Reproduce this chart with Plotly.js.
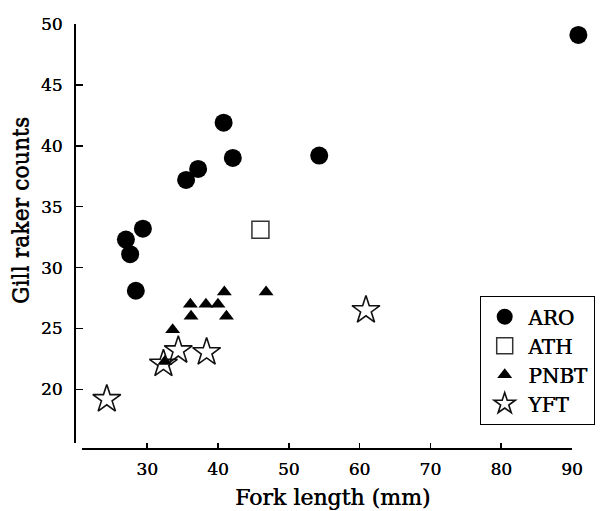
<!DOCTYPE html>
<html>
<head>
<meta charset="utf-8">
<script src="https://cdn.plot.ly/plotly-3.0.1.min.js"></script>
<style>html,body{margin:0;padding:0;background:#fff;}#chart{width:603px;height:511px;}</style>
</head>
<body>
<div id="chart"></div>
<script>
// Data
const aroX = [27, 27.6, 28.4, 29.4, 35.5, 37.2, 40.8, 42.1, 54.3, 90.9];
const aroY = [32.3, 31.1, 28.1, 33.2, 37.2, 38.1, 41.9, 39.0, 39.2, 49.1];
const athX = [46.0];
const athY = [33.1];
const pnbtX = [32.5, 33.6, 36.1, 36.2, 38.3, 40.0, 40.9, 41.2, 46.8];
const pnbtY = [22.3, 24.9, 27.0, 26.0, 27.0, 27.0, 28.0, 26.0, 28.0];
const yftX = [24.3, 32.3, 34.4, 38.4, 60.9];
const yftY = [19.2, 22.1, 23.2, 23.05, 26.5];
const xTicks = [30, 40, 50, 60, 70, 80, 90];
const yTicks = [20, 25, 30, 35, 40, 45, 50];
const seriesNames = ['ARO', 'ATH', 'PNBT', 'YFT'];
const xTitle = 'Fork length (mm)';
const yTitle = 'Gill raker counts';

const FONT = 'DejaVu Serif, Liberation Serif, serif';
const SHADOW = '0.5px 0 0 #000';

const common = {type: 'scatter', mode: 'markers', cliponaxis: false, xaxis: 'x2', yaxis: 'y'};
const traces = [
  // empty helper trace so the visible x axis (x/y subplot) is drawn
  {x: [], y: [], type: 'scatter', mode: 'markers', xaxis: 'x', yaxis: 'y', showlegend: false, hoverinfo: 'skip'},
  Object.assign({x: aroX, y: aroY, name: seriesNames[0],
   marker: {symbol: 'circle', size: 18, color: '#000'}}, common),
  Object.assign({x: athX, y: athY, name: seriesNames[1],
   marker: {symbol: 'square-open', size: 17, color: '#333', line: {width: 1.5, color: '#333'}}}, common),
  Object.assign({x: pnbtX, y: pnbtY, name: seriesNames[2],
   marker: {symbol: 'triangle-up', size: 13, color: '#000'}}, common),
  Object.assign({x: yftX, y: yftY, name: seriesNames[3],
   marker: {symbol: 'star-open', size: 21, color: '#111', line: {width: 1.6, color: '#111'}}}, common)
];

const L = 60, R = 20, T = 15, B = 45;
const W = 603, H = 511;
const pw = W - L - R, ph = H - T - B;
const px = v => (v - L) / pw;          // pixel x -> paper
const py = v => (H - B - v) / ph;      // pixel y -> paper

// visible x axis spans 82..572 px for 20.8..90; data axis shares the same scale but reaches to the paper edge
const xMin = 20.8, xMax = 90, xL = 82, xR = 572, xR2 = W - R;
const scale = (xR - xL) / (xMax - xMin);
const xMax2 = xMin + (xR2 - xL) / scale;

const layout = {
  width: W, height: H,
  margin: {l: L, r: R, t: T, b: B, autoexpand: false},
  paper_bgcolor: '#fff', plot_bgcolor: 'rgba(0,0,0,0)',
  font: {family: FONT, color: '#000', size: 17},
  showlegend: true,
  legend: {
    x: px(480), xanchor: 'left', y: py(296), yanchor: 'top',
    bordercolor: '#000', borderwidth: 1.2, bgcolor: '#fff',
    font: {family: FONT, size: 20, color: '#000', shadow: SHADOW},
    itemwidth: 37, tracegroupgap: 0
  },
  xaxis: {
    range: [xMin, xMax], domain: [px(xL), px(xR)],
    anchor: 'free', position: py(449),
    tickvals: xTicks, ticktext: xTicks.map(String),
    ticks: 'inside', ticklen: 5, tickwidth: 1.5, tickcolor: '#000',
    showline: true, linewidth: 2, linecolor: '#000',
    showgrid: false, zeroline: false,
    ticklabelstandoff: 5,
    tickfont: {family: FONT, size: 17, color: '#000', shadow: '0.3px 0 0 #000'}
  },
  xaxis2: {
    range: [xMin, xMax2], domain: [px(xL), px(xR2)],
    anchor: 'free', position: py(449),
    visible: false, showgrid: false, zeroline: false
  },
  yaxis: {
    range: [15.6, 50], domain: [py(443), py(24)],
    anchor: 'free', position: px(75),
    tickvals: yTicks, ticktext: yTicks.map(String),
    ticks: 'inside', ticklen: 7, tickwidth: 1.5, tickcolor: '#000',
    showline: true, linewidth: 2, linecolor: '#000',
    showgrid: false, zeroline: false,
    ticklabelstandoff: 8,
    tickfont: {family: FONT, size: 17, color: '#000', shadow: '0.3px 0 0 #000'}
  },
  annotations: [
    {text: yTitle, xref: 'paper', yref: 'paper', x: px(20), y: py(211),
     xanchor: 'center', yanchor: 'middle', textangle: -90, showarrow: false,
     font: {family: FONT, size: 22, color: '#000', shadow: '0 0.5px 0 #000'}},
    {text: xTitle, xref: 'paper', yref: 'paper', x: px(332), y: py(497),
     xanchor: 'center', yanchor: 'middle', showarrow: false,
     font: {family: FONT, size: 22, color: '#000', shadow: SHADOW}}
  ]
};

Plotly.newPlot('chart', traces, layout, {displayModeBar: false, staticPlot: true});
</script>
</body>
</html>
